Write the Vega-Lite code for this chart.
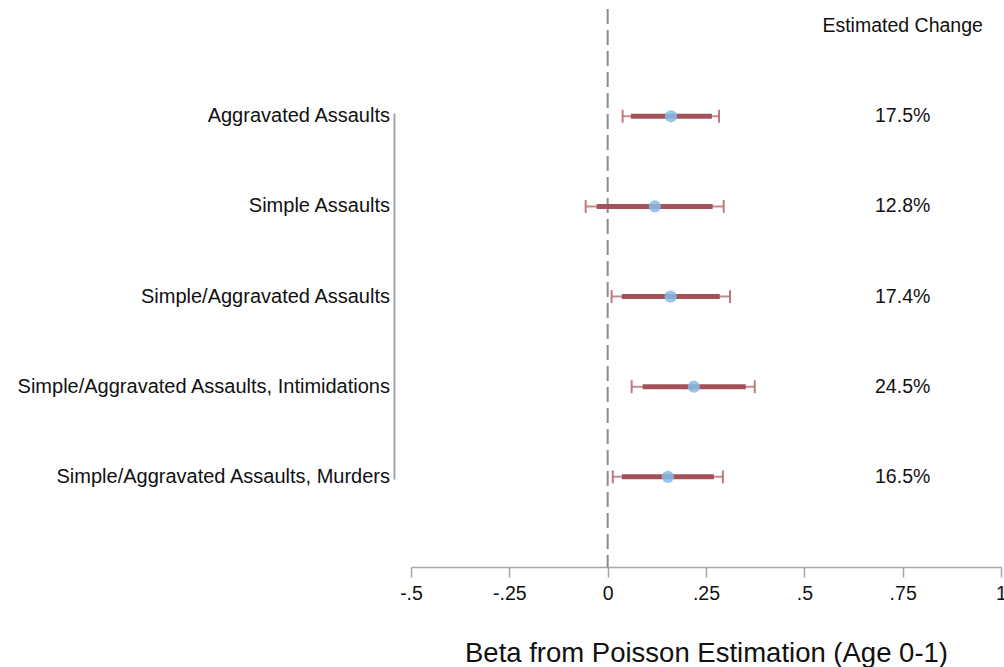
{
  "$schema": "https://vega.github.io/schema/vega-lite/v6.json",
  "autosize": "none",
  "width": 590,
  "height": 558,
  "padding": {"left": 411, "top": 9, "right": 3, "bottom": 100},
  "background": "white",
  "config": {
    "view": {"stroke": null},
    "font": "Liberation Sans",
    "text": {"font": "Liberation Sans", "color": "#111111"}
  },
  "datasets": {
    "est": [
      {"row": 1, "outcome": "Aggravated Assaults", "b": 0.161, "lo95": 0.038, "hi95": 0.283, "lo90": 0.059, "hi90": 0.265, "pct": "17.5%"},
      {"row": 2, "outcome": "Simple Assaults", "b": 0.120, "lo95": -0.056, "hi95": 0.295, "lo90": -0.028, "hi90": 0.267, "pct": "12.8%"},
      {"row": 3, "outcome": "Simple/Aggravated Assaults", "b": 0.160, "lo95": 0.010, "hi95": 0.311, "lo90": 0.036, "hi90": 0.285, "pct": "17.4%"},
      {"row": 4, "outcome": "Simple/Aggravated Assaults, Intimidations\u00a0", "b": 0.219, "lo95": 0.061, "hi95": 0.374, "lo90": 0.089, "hi90": 0.351, "pct": "24.5%"},
      {"row": 5, "outcome": "Simple/Aggravated Assaults, Murders", "b": 0.153, "lo95": 0.013, "hi95": 0.293, "lo90": 0.036, "hi90": 0.270, "pct": "16.5%"}
    ],
    "one": [{"header": "Estimated Change"}]
  },
  "layer": [
    {
      "data": {"name": "one"},
      "mark": {"type": "rule", "color": "#8c8c8c", "strokeWidth": 2, "strokeDash": [15, 6]},
      "encoding": {
        "x": {
          "datum": 0, "type": "quantitative",
          "scale": {"domain": [-0.5, 1], "nice": false, "zero": false},
          "axis": {
            "values": [-0.5, -0.25, 0, 0.25, 0.5, 0.75, 1],
            "labelExpr": "replace('' + datum.value, '0.', '.')",
            "title": "Beta from Poisson Estimation (Age 0-1)",
            "titleFont": "Liberation Sans",
            "titleFontSize": 27.5,
            "titleFontWeight": "normal",
            "titleColor": "#111111",
            "titlePadding": 37,
            "labelFont": "Liberation Sans",
            "labelFontSize": 19.5,
            "labelColor": "#111111",
            "labelPadding": 7,
            "labelFlush": false,
            "labelOverlap": false,
            "domainColor": "#a6a6a6",
            "domainWidth": 1.5,
            "tickColor": "#a6a6a6",
            "tickWidth": 1.5,
            "tickSize": 10,
            "grid": false
          }
        }
      }
    },
    {
      "data": {"name": "one"},
      "mark": {"type": "rule", "color": "#a6a6a6", "strokeWidth": 2},
      "encoding": {
        "x": {"datum": -0.542, "type": "quantitative"},
        "y": {"datum": 0.97, "type": "quantitative", "scale": {"domain": [-0.19, 6], "reverse": true, "nice": false, "zero": false}, "axis": null},
        "y2": {"datum": 5.03}
      }
    },
    {
      "data": {"name": "est"},
      "mark": {"type": "rule", "color": "#b5646a", "opacity": 0.75, "strokeWidth": 2},
      "encoding": {
        "x": {"field": "lo95", "type": "quantitative"},
        "x2": {"field": "hi95"},
        "y": {"field": "row", "type": "quantitative"}
      }
    },
    {
      "data": {"name": "est"},
      "transform": [{"fold": ["lo95", "hi95"], "as": ["end", "val"]}],
      "mark": {"type": "tick", "orient": "vertical", "color": "#b5646a", "opacity": 0.85, "size": 13, "thickness": 2},
      "encoding": {
        "x": {"field": "val", "type": "quantitative"},
        "y": {"field": "row", "type": "quantitative"}
      }
    },
    {
      "data": {"name": "est"},
      "mark": {"type": "rule", "color": "#a3525a", "strokeWidth": 5},
      "encoding": {
        "x": {"field": "lo90", "type": "quantitative"},
        "x2": {"field": "hi90"},
        "y": {"field": "row", "type": "quantitative"}
      }
    },
    {
      "data": {"name": "est"},
      "mark": {"type": "point", "filled": true, "color": "#86bce8", "opacity": 0.85, "size": 150},
      "encoding": {
        "x": {"field": "b", "type": "quantitative"},
        "y": {"field": "row", "type": "quantitative"}
      }
    },
    {
      "data": {"name": "est"},
      "mark": {"type": "text", "align": "right", "baseline": "middle", "dx": -21, "fontSize": 20},
      "encoding": {
        "x": {"datum": -0.5, "type": "quantitative"},
        "y": {"field": "row", "type": "quantitative"},
        "text": {"field": "outcome"}
      }
    },
    {
      "data": {"name": "est"},
      "mark": {"type": "text", "align": "center", "baseline": "middle", "fontSize": 19.5},
      "encoding": {
        "x": {"datum": 0.75, "type": "quantitative"},
        "y": {"field": "row", "type": "quantitative"},
        "text": {"field": "pct"}
      }
    },
    {
      "data": {"name": "one"},
      "mark": {"type": "text", "align": "center", "baseline": "middle", "fontSize": 19.5},
      "encoding": {
        "x": {"datum": 0.75, "type": "quantitative"},
        "y": {"datum": 0, "type": "quantitative"},
        "text": {"field": "header"}
      }
    }
  ]
}
